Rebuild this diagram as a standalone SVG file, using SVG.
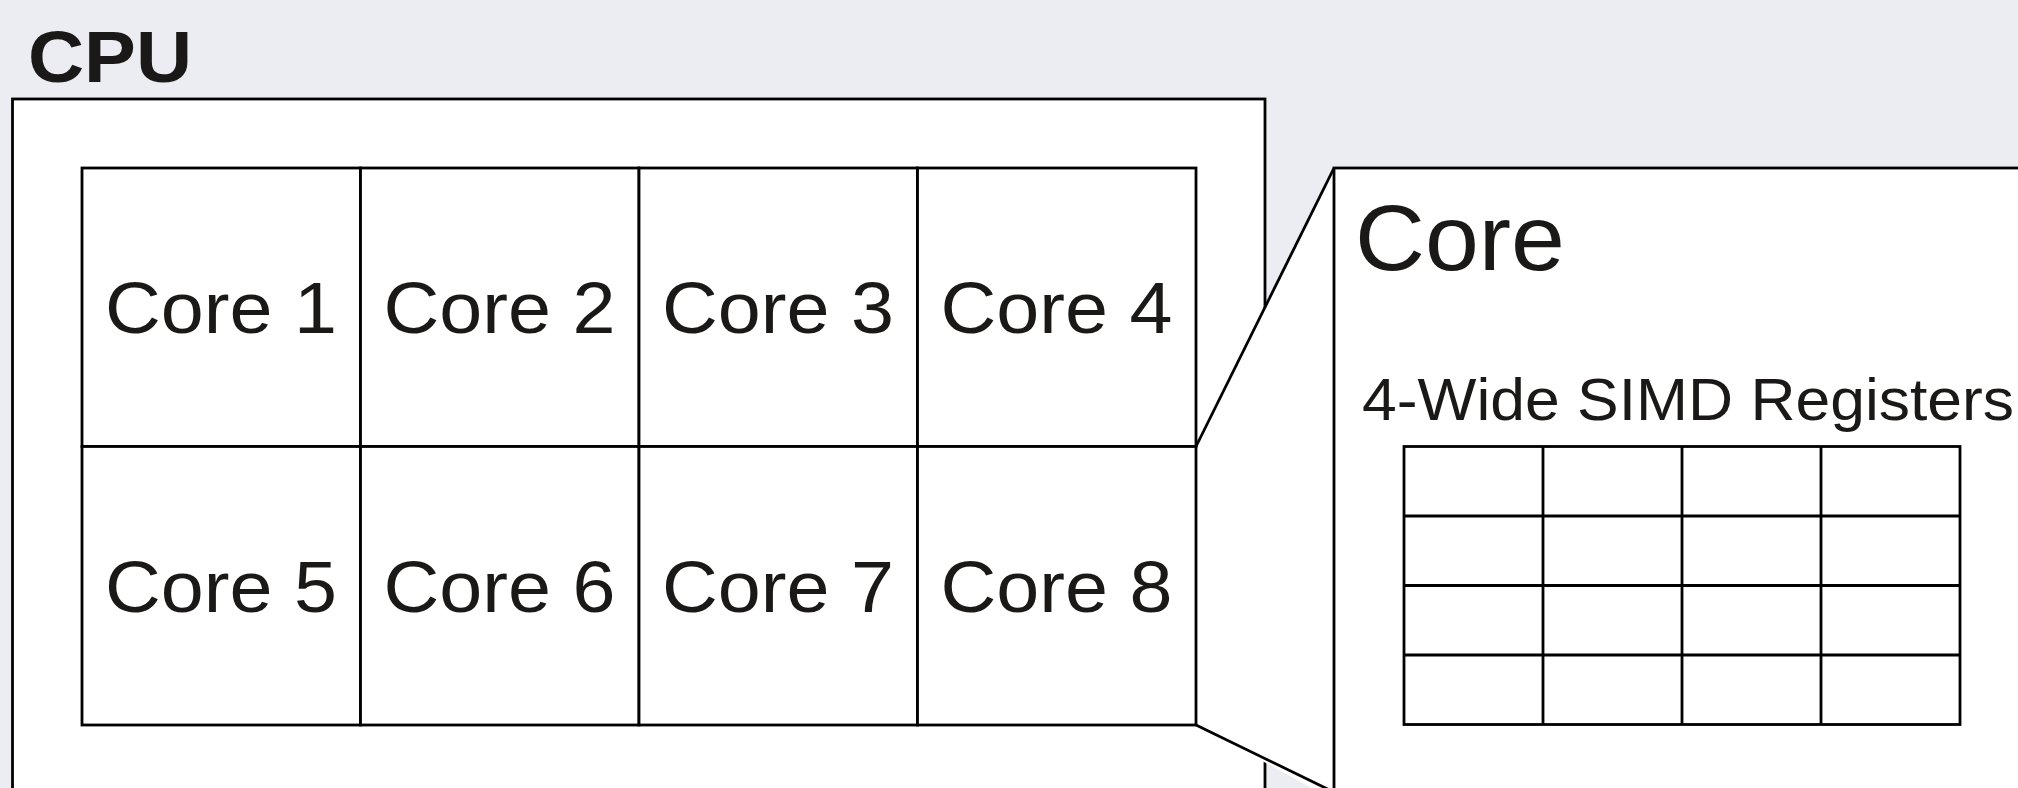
<svg xmlns="http://www.w3.org/2000/svg" width="2018" height="788" viewBox="0 0 2018 788">
<style>
.ln{fill:#fff;stroke:#000;stroke-width:2.8}
.cl{fill:none;stroke:#000;stroke-width:2.8}
.t{font-family:"Liberation Sans",Arial,sans-serif;fill:#1a1917}
.lbl{font-size:72px;text-anchor:middle}
</style>
<rect width="2018" height="788" fill="#ECEDF2"/>
<g id="cpu">
<rect class="ln" x="12.5" y="99" width="1252.5" height="720"/>
<text class="t" x="28" y="82" font-size="72" font-weight="bold" textLength="164" lengthAdjust="spacingAndGlyphs">CPU</text>
</g>
<g id="connectors">
<polygon points="1196,446.5 1334,168 1334,800 1196,725" fill="#fff" stroke="none"/>
<line class="cl" x1="1196" y1="446.5" x2="1334" y2="168"/>
<line class="cl" x1="1196" y1="725" x2="1344" y2="797"/>
</g>
<g id="cores">
<g id="core1"><rect class="ln" x="82" y="168" width="278.5" height="278.5"/><text class="t lbl" x="221" y="333" textLength="232" lengthAdjust="spacingAndGlyphs">Core 1</text></g>
<g id="core2"><rect class="ln" x="360.5" y="168" width="278.5" height="278.5"/><text class="t lbl" x="499.5" y="333" textLength="232" lengthAdjust="spacingAndGlyphs">Core 2</text></g>
<g id="core3"><rect class="ln" x="639" y="168" width="278.5" height="278.5"/><text class="t lbl" x="778" y="333" textLength="232" lengthAdjust="spacingAndGlyphs">Core 3</text></g>
<g id="core4"><rect class="ln" x="917.5" y="168" width="278.5" height="278.5"/><text class="t lbl" x="1056.5" y="333" textLength="232" lengthAdjust="spacingAndGlyphs">Core 4</text></g>
<g id="core5"><rect class="ln" x="82" y="446.5" width="278.5" height="278.5"/><text class="t lbl" x="221" y="611.5" textLength="232" lengthAdjust="spacingAndGlyphs">Core 5</text></g>
<g id="core6"><rect class="ln" x="360.5" y="446.5" width="278.5" height="278.5"/><text class="t lbl" x="499.5" y="611.5" textLength="232" lengthAdjust="spacingAndGlyphs">Core 6</text></g>
<g id="core7"><rect class="ln" x="639" y="446.5" width="278.5" height="278.5"/><text class="t lbl" x="778" y="611.5" textLength="232" lengthAdjust="spacingAndGlyphs">Core 7</text></g>
<g id="core8"><rect class="ln" x="917.5" y="446.5" width="278.5" height="278.5"/><text class="t lbl" x="1056.5" y="611.5" textLength="232" lengthAdjust="spacingAndGlyphs">Core 8</text></g>
</g>
<g id="core-detail">
<rect class="ln" x="1334" y="168" width="720" height="680"/>
<text class="t" x="1355" y="270" font-size="92" textLength="210" lengthAdjust="spacingAndGlyphs">Core</text>
<text class="t" x="1362" y="420" font-size="59" textLength="652" lengthAdjust="spacingAndGlyphs">4-Wide SIMD Registers</text>
</g>
<g id="simd-registers">
<rect class="ln" x="1404" y="446.5" width="556" height="278"/>
<path class="cl" d="M1543 446.5V724.5M1682 446.5V724.5M1821 446.5V724.5M1404 516H1960M1404 585.5H1960M1404 655H1960"/>
</g>
</svg>
